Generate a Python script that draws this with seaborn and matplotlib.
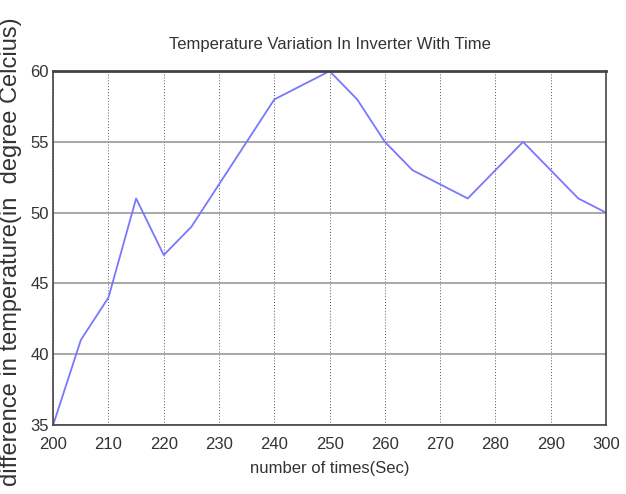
import matplotlib
matplotlib.use("Agg")
import matplotlib.pyplot as plt
import seaborn as sns
import pandas as pd

times = [200, 205, 210, 215, 220, 225, 230, 235, 240, 245, 250,
         255, 260, 265, 270, 275, 280, 285, 290, 295, 300]
temps = [35, 41, 44, 51, 47, 49, 52, 55, 58, 59, 60,
         58, 55, 53, 52, 51, 53, 55, 53, 51, 50]
x_ticks = list(range(200, 301, 10))
y_ticks = [35, 40, 45, 50, 55, 60]

df = pd.DataFrame({"time": times, "temp": temps})

sns.set_style("white")
plt.rcParams['font.family'] = ['Liberation Sans Narrow', 'Liberation Sans', 'DejaVu Sans']

fig = plt.figure(figsize=(6.26, 4.94), dpi=100)
ax = fig.add_axes([0.085, 0.140, 0.883, 0.716])
sns.lineplot(data=df, x="time", y="temp", ax=ax, color="#7777ff", linewidth=1.3)

ax.set_xlim(200, 300)
ax.set_ylim(35, 60)
ax.set_xticks(x_ticks)
ax.set_yticks(y_ticks)
ax.grid(axis="x", color="#555555", linestyle=(0, (1, 2)), linewidth=0.7)
ax.grid(axis="y", color="#999999", linestyle="-", linewidth=1.2)
for s in ax.spines.values():
    s.set_color("#444444")
    s.set_linewidth(1.2)
ax.spines["top"].set_linewidth(2)
ax.tick_params(direction="in", length=4, labelsize=12, colors="#333333")
ax.tick_params(axis="x", pad=9)
ax.tick_params(axis="y", pad=3)

ax.set_title("Temperature Variation In Inverter With Time", fontsize=12, color="#333333", pad=16)
ax.set_xlabel("number of times(Sec)", fontsize=12, color="#333333", labelpad=6)
fig.text(0.018, 0.49, "difference in temperature(in  degree Celcius)", rotation=90,
         ha="center", va="center", fontsize=17, color="#333333",
         family=['Liberation Sans', 'DejaVu Sans'])
ax.set_ylabel("")

fig.savefig("out.png", dpi=100)
